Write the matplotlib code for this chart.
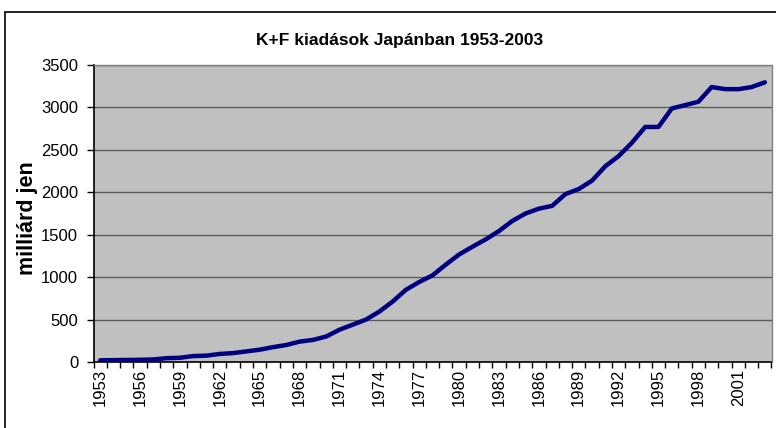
import matplotlib
matplotlib.use("Agg")
import matplotlib.pyplot as plt
from matplotlib.patches import Rectangle
from matplotlib.ticker import MultipleLocator, FixedLocator, NullFormatter

years = list(range(1953, 2004))
values = [20, 22, 24, 26, 30, 45, 50, 70, 75, 95,
          105, 125, 145, 175, 200, 240, 260, 300, 380, 440,
          500, 594, 712, 851, 943, 1021, 1148, 1267, 1358, 1445,
          1543, 1662, 1750, 1807, 1840, 1979, 2038, 2137, 2307, 2426,
          2584, 2770, 2770, 2988, 3027, 3067, 3240, 3216, 3215, 3240,
          3296]
label_years = years[::3]
title = "K+F kiadások Japánban 1953-2003"
ylabel = "milliárd jen"

plt.rcParams['font.family'] = ['Liberation Sans', 'DejaVu Sans']

W, H = 776, 428
fig = plt.figure(figsize=(W / 100, H / 100), dpi=100)

# outer chart border
fig.patches.append(Rectangle((5 / W, -0.05), 1.2, 1 - 12 / H + 0.05,
                             transform=fig.transFigure, fill=False,
                             edgecolor='black', linewidth=1.2))

l, r, t, b = 93.5, 771.5, 65, 362
ax = fig.add_axes([l / W, 1 - b / H, (r - l) / W, (b - t) / H])
ax.set_facecolor('#C0C0C0')

x = list(range(len(years)))
ax.plot(x, values, color='#000080', linewidth=3.2, solid_capstyle='round',
        solid_joinstyle='round', zorder=3)

ax.set_xlim(-0.5, len(years) - 0.5)
ax.set_ylim(0, 3500)

ax.yaxis.set_major_locator(MultipleLocator(500))
ax.grid(axis='y', color='#5a5a5a', linewidth=1.0, zorder=1)
ax.set_axisbelow(True)

ax.xaxis.set_major_locator(FixedLocator([years.index(y) for y in label_years]))
ax.set_xticklabels([str(y) for y in label_years], rotation=90)
ax.xaxis.set_minor_locator(FixedLocator([i - 0.5 for i in range(len(years) + 1)]))
ax.xaxis.set_minor_formatter(NullFormatter())
ax.tick_params(axis='x', which='major', length=0, pad=5, labelsize=12)
ax.tick_params(axis='x', which='minor', length=4, width=1, direction='out', color='black')
ax.tick_params(axis='y', which='major', length=5, width=1, direction='out', pad=6,
               labelsize=12)

for s in ['top', 'right']:
    ax.spines[s].set_color('#808080')
    ax.spines[s].set_linewidth(1.0)
for s in ['left', 'bottom']:
    ax.spines[s].set_color('black')
    ax.spines[s].set_linewidth(1.2)

fig.text(400 / W, 1 - 40 / H, title, ha='center', va='center',
         fontsize=12.5, fontweight='bold')
fig.text(27 / W, 1 - 218 / H, ylabel, ha='center', va='center', rotation=90,
         fontsize=15.5, fontweight='bold')

fig.savefig('out.png', dpi=100)
